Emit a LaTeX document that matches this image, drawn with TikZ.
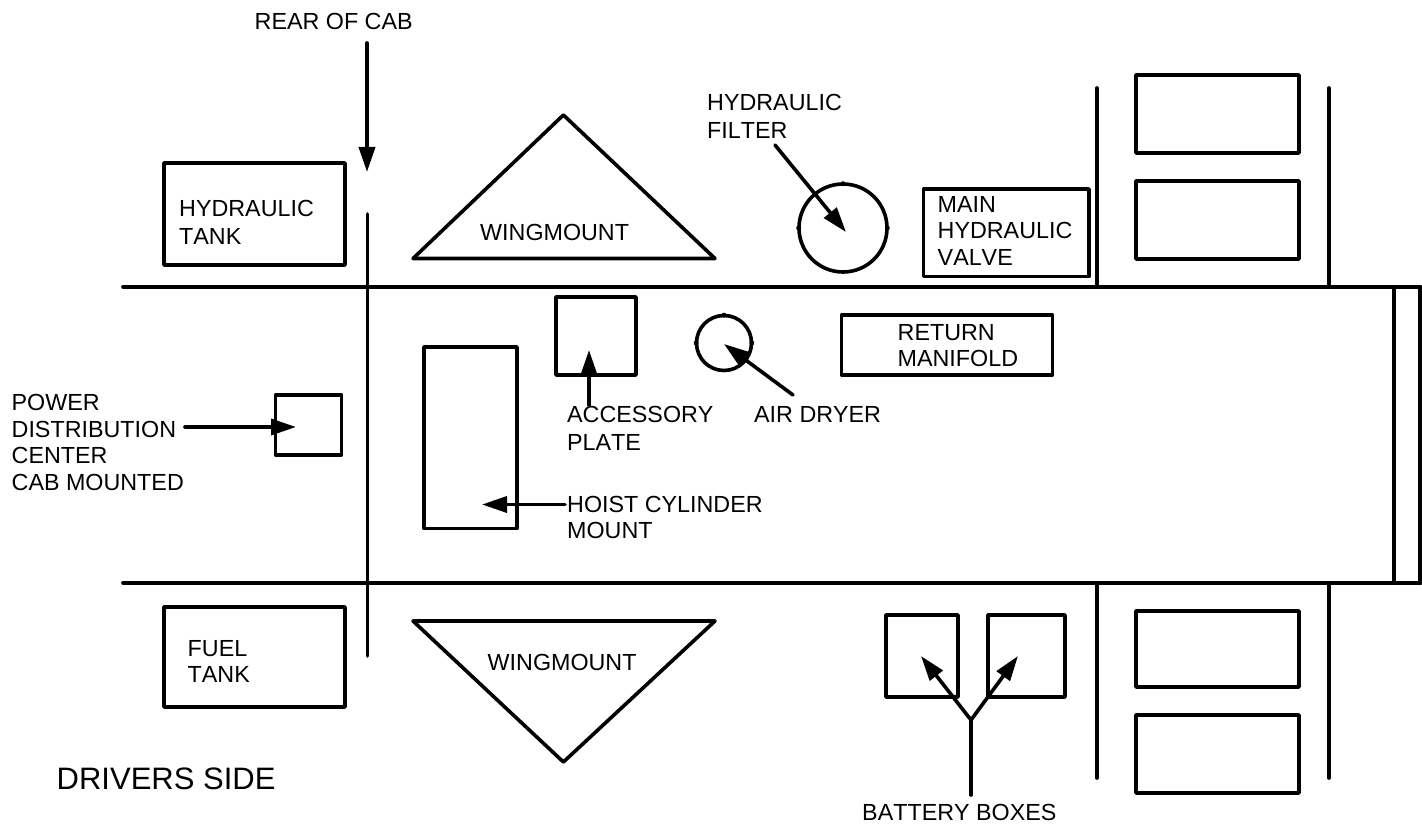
\documentclass[tikz,border=0pt]{standalone}
\usepackage{fontspec}
\setmainfont[Kerning=Off]{Liberation Sans}
\usetikzlibrary{arrows.meta}
\tikzset{
 ln/.style={line width=3.6pt,line cap=round,black},
 thick box/.style={draw,line width=3.6pt,line join=round},
 arr/.style={line width=3.6pt,line cap=round,-{Triangle[length=25pt,width=16pt]}},
 lbl/.style={font=\fontsize{23.3pt}{27.6pt}\selectfont,align=left,anchor=north west,inner sep=0pt},
 lbltight/.style={lbl,font=\fontsize{23.3pt}{26.7pt}\selectfont},
 lblhoist/.style={lbl,font=\fontsize{23.3pt}{25.8pt}\selectfont},
 bump/.style={fill=black,circle,inner sep=0pt,minimum size=5pt}
}
\begin{document}
\begin{tikzpicture}[x=1pt,y=-1pt]
\useasboundingbox (0,0) rectangle (1422,826);
\fill[white] (0,0) rectangle (1422,826);
% frame lines
\draw[ln] (123,287) -- (1420.5,287);
\draw[ln] (123,583) -- (1420.5,583);
\draw[ln] (1394,287) -- (1394,583);
\draw[ln] (1420,287) -- (1420,583);
\draw[ln] (367.5,214) -- (367.5,656);
\draw[ln] (1097,88) -- (1097,287);
\draw[ln] (1329,88) -- (1329,287);
\draw[ln] (1097,583) -- (1097,778);
\draw[ln] (1329,583) -- (1329,778);
% boxes
\draw[thick box] (164,163) rectangle (345,265);
\draw[thick box] (164,607) rectangle (345,707);
\draw[thick box] (1136,75) rectangle (1299,153);
\draw[thick box] (1136,181) rectangle (1299,259);
\draw[thick box] (1136,611) rectangle (1299,687);
\draw[thick box] (1136,715) rectangle (1299,793);
\draw[thick box] (923.5,189) rectangle (1089,276.5);
\draw[thick box] (841.5,315) rectangle (1052.5,375);
\draw[thick box] (556,297) rectangle (636,375);
\draw[thick box] (424,347) rectangle (517,528.5);
\draw[thick box] (275.5,395) rectangle (341.5,455);
\draw[thick box] (886,615) rectangle (958,697);
\draw[thick box] (988,615) rectangle (1065,697);
\draw[thick box] (413,258.5) -- (563.4,115) -- (715,258.5) -- cycle;
\draw[thick box] (413,621) -- (715,621) -- (563.4,762) -- cycle;
\draw[thick box] (843,228) circle (44);
\draw[thick box] (724,343) circle (27.5);
\foreach \a in {0,90,180}{
 \node[bump] at ({843+44.3*cos(\a)},{228-44.3*sin(\a)}) {};
 \node[bump] at ({724+27.8*cos(\a)},{343-27.8*sin(\a)}) {};
}
% connectors
\coordinate (r1) at (367,43); \coordinate (r2) at (367,172);
\draw[arr] (r1) -- (r2);
\coordinate (h1) at (775,145); \coordinate (h2) at (846,232);
\draw[arr] (h1) -- (h2);
\coordinate (ad1) at (793,395); \coordinate (ad2) at (724,344);
\draw[arr] (ad1) -- (ad2);
\coordinate (ap1) at (589,405); \coordinate (ap2) at (589,350);
\draw[arr] (ap1) -- (ap2);
\coordinate (pd1) at (185,427); \coordinate (pd2) at (296,427);
\draw[arr] (pd1) -- (pd2);
\coordinate (hc1) at (565,504.5); \coordinate (hc2) at (482,504.5);
\draw[arr] (hc1) -- (hc2);
\coordinate (bb) at (971,720); \coordinate (bb0) at (971,795);
\coordinate (b1) at (921,656); \coordinate (b2) at (1018,656);
\draw[ln] (bb0) -- (bb);
\draw[arr] (bb) -- (b1);
\draw[arr] (bb) -- (b2);
% labels
\node[lbl] (t1) at (254.5,13) {REAR OF CAB};
\node[lbl] (t2) at (707,94) {HYDRAULIC\\FILTER};
\node[lbl] (t3) at (179,200) {HYDRAULIC\\TANK};
\node[lbl] (t4) at (480,224) {WINGMOUNT};
\node[lbltight] (t5) at (937.5,196) {MAIN\\HYDRAULIC\\VALVE};
\node[lbltight] (t6) at (897.5,324) {RETURN\\MANIFOLD};
\node[lbl] (t7) at (567,406) {ACCESSORY\\PLATE};
\node[lbl] (t8) at (754,406) {AIR DRYER};
\node[lbltight] (t9) at (11.5,394) {POWER\\DISTRIBUTION\\CENTER\\CAB MOUNTED};
\node[lblhoist] (t10) at (567,496) {HOIST CYLINDER\\MOUNT};
\node[lblhoist] (t11) at (187.5,640) {FUEL\\TANK};
\node[lbl] (t12) at (487.5,654) {WINGMOUNT};
\node[lbl,font=\fontsize{31pt}{34pt}\selectfont] (t13) at (56.5,768) {DRIVERS SIDE};
\node[lbl] (t14) at (862,804) {BATTERY BOXES};
\end{tikzpicture}
\end{document}
